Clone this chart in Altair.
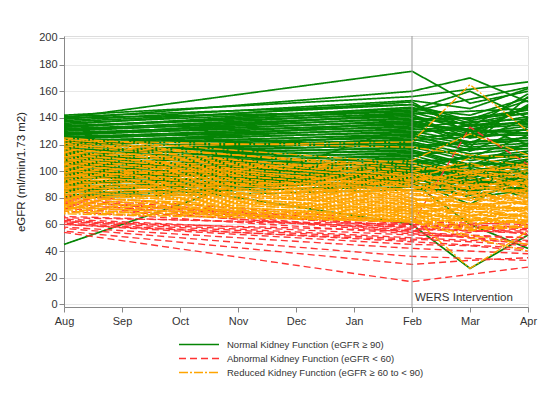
import altair as alt
import pandas as pd

months = ["Aug", "Sep", "Oct", "Nov", "Dec", "Jan", "Feb", "Mar", "Apr"]
measured = ["Aug", "Feb", "Mar", "Apr"]
groups = [
    "Normal Kidney Function (eGFR \u2265 90)",
    "Abnormal Kidney Function (eGFR < 60)",
    "Reduced Kidney Function (eGFR \u2265 60 to < 90)",
]
colors = ["#058505", "#ff3333", "#ffa500"]
dashes = [[1, 0], [7, 4], [9, 2, 2, 2]]
widths = [1.7, 1.35, 1.35]
y_ticks = [0, 20, 40, 60, 80, 100, 120, 140, 160, 180, 200]

# rows: (Aug, Feb, Mar, Apr)
normal_rows = [
    (141, 150, 138, 146), (140, 175, 151, 160), (139, 160, 170, 152), (142, 156, None, 167),
    (138, 153, 147, 162), (137, 150, 133, 158), (136, 147, 142, 155), (135, 152, 128, 149),
    (134, 145, 139, 153), (134, 143, None, 147), (133, 148, 136, 144), (132, 141, 125, 150),
    (131, 144, 134, 141), (131, 139, 140, 146), (130, 142, 131, 138), (129, 137, None, 143),
    (128, 140, 135, 136), (128, 135, 121, 140), (127, 138, 128, 134), (126, 133, 137, 139),
    (125, 136, 130, 131), (125, 131, None, 137), (124, 134, 125, 129), (123, 129, 132, 135),
    (122, 132, 127, 127), (121, 127, 115, 133), (121, 130, 122, 125), (120, 125, None, 131),
    (119, 128, 120, 123), (118, 123, 126, 129), (117, 126, 118, 121), (116, 121, 110, 127),
    (115, 124, 116, 119), (115, 119, None, 125), (114, 122, 113, 117), (113, 117, 122, 123),
    (112, 120, 110, 115), (111, 115, 104, 121), (110, 118, 108, 113), (109, 113, None, 119),
    (108, 116, 105, 111), (107, 111, 117, 117), (106, 114, 103, 109), (105, 109, 96, 115),
    (104, 112, 100, 107), (103, 107, None, 113), (102, 110, 98, 105), (101, 105, 110, 111),
    (100, 108, 95, 103), (99, 103, 91, 109), (98, 106, 93, 101), (97, 101, None, 107),
    (96, 104, 90, 99), (95, 99, 106, 105), (94, 102, 88, 97), (92, 97, 84, 94),
    (90, 100, 85, 92), (88, 95, None, 90), (85, 96, 80, 86), (82, 93, 96, 84),
    (45, 135, None, 128), (100, 60, 27, 52), (99, 92, 60, 42), (140, 145, None, 163),
    (133, 146, 160, 140), (127, 143, 118, 156), (119, 137, 130, 148), (111, 128, 135, 120),
    (108, 96, 101, 104), (104, 100, 112, 98), (101, 94, None, 100), (97, 98, 104, 93),
    (93, 91, 87, 96), (91, 94, 99, 88), (89, 90, None, 92), (86, 92, 95, 85),
    (84, 88, 82, 89), (81, 90, 92, 80), (112, 103, 97, 106), (106, 101, None, 95),
    (99, 96, 102, 90), (95, 93, 75, 99), (87, 97, 90, 83), (80, 86, None, 87),
]
abnormal_rows = [
    (82, 62, None, 60), (80, 60, 58, 57), (79, 58, None, 62), (78, 57, 55, 54),
    (77, 61, None, 58), (76, 55, 60, 52), (75, 59, None, 56), (74, 54, 52, 50),
    (72, 56, None, 55), (70, 53, 50, 48), (66, 58, None, 53), (64, 52, None, 50),
    (63, 50, 48, 47), (62, 55, None, 45), (62, 49, 47, 44), (61, 47, None, 42),
    (60, 45, 44, 40), (58, 42, None, 38), (57, 36, None, 33), (55, 30, 33, 35),
    (54, 17, None, 28), (65, 60, 133, 105), (60, 48, None, 60),
]
reduced_rows = [
    (125, 106, 100, 104), (123, 118, 112, 110), (122, 102, None, 100), (120, 104, 98, 106),
    (119, 98, 92, 97), (118, 122, 165, 130), (117, 96, 104, 102), (116, 100, 88, 94),
    (115, 94, None, 99), (114, 97, 90, 92), (113, 91, 100, 96), (112, 95, 87, 89),
    (111, 89, 80, 93), (110, 93, 99, 87), (109, 88, None, 91), (108, 91, 84, 85),
    (107, 86, 95, 89), (106, 90, 92, 83), (105, 84, 75, 87), (104, 88, 81, 82),
    (103, 83, None, 86), (102, 86, 78, 80), (101, 81, 88, 84), (100, 85, 83, 78),
    (99, 80, 71, 82), (98, 83, 75, 77), (97, 78, None, 81), (96, 82, 79, 75),
    (95, 77, 84, 79), (94, 80, 72, 73), (93, 75, 66, 78), (92, 79, 76, 72),
    (91, 74, None, 76), (90, 77, 69, 71), (89, 73, 80, 75), (88, 76, 73, 69),
    (87, 71, 62, 74), (86, 75, 67, 68), (85, 70, None, 72), (84, 73, 70, 66),
    (83, 69, 75, 71), (82, 72, 64, 65), (81, 68, 59, 69), (80, 71, 68, 63),
    (79, 66, None, 67), (78, 70, 61, 62), (77, 65, 70, 66), (76, 68, 65, 60),
    (75, 64, 55, 64), (74, 67, 58, 59), (73, 63, None, 63), (72, 66, 27, 55),
    (71, 62, 63, 61), (70, 64, 57, 58), (69, 62, 52, 45), (68, 62, 50, 40),
    (96, 108, 128, 112), (88, 92, 110, 104), (80, 86, 98, 95),
    (124, 100, 106, 96), (121, 96, 86, 92), (117, 93, 99, 90), (113, 88, None, 86),
    (109, 85, 90, 82), (105, 80, 73, 78), (101, 78, 83, 76), (97, 75, None, 72),
    (93, 72, 76, 70), (89, 70, 63, 67), (85, 68, 73, 65), (81, 65, None, 62),
    (77, 63, 66, 60), (73, 62, 56, 58),
]

records = []
for g, rows in zip(groups, [normal_rows, abnormal_rows, reduced_rows]):
    for i, row in enumerate(rows):
        for m, v in zip(measured, row):
            if v is not None:
                records.append({"group": g, "id": f"{g[:3]}{i}", "phase": i % 4,
                                "month": m, "mi": months.index(m), "egfr": v})
df = pd.DataFrame(records)

font = "Liberation Sans"

legend_kw = dict(title=None, orient="none", legendX=114, legendY=303,
                 symbolType="stroke", symbolSize=1600, symbolStrokeWidth=1.5,
                 clipHeight=11, rowPadding=3, labelFontSize=9.5, labelFont=font,
                 labelColor="#333", labelOffset=7, labelLimit=400)

x_enc = alt.X("month:O", sort=months,
              scale=alt.Scale(type="point", domain=months, padding=0),
              axis=alt.Axis(title=None, labelAngle=0, grid=False, domainColor="#888",
                            tickColor="#888", tickSize=5, labelFontSize=11,
                            labelColor="#333", labelFont=font, labelPadding=3))
y_enc = alt.Y("egfr:Q", scale=alt.Scale(domain=[-2, 201.5], nice=False, zero=False),
              axis=alt.Axis(title="eGFR (ml/min/1.73 m2)", values=y_ticks, grid=True,
                            gridColor="#e8e8e8", domainColor="#888", tickColor="#888",
                            tickSize=5, labelFontSize=11, labelColor="#333",
                            labelOverlap=False, labelFont=font, titleFont=font,
                            titleFontSize=11.5, titleFontWeight="normal",
                            titleColor="#222", titlePadding=12))

base = alt.Chart(df).encode(
    x=x_enc,
    y=y_enc,
    color=alt.Color("group:N", scale=alt.Scale(domain=groups, range=colors),
                    legend=alt.Legend(**legend_kw)),
    strokeDash=alt.StrokeDash("group:N", scale=alt.Scale(domain=groups, range=dashes),
                              legend=alt.Legend(**legend_kw)),
    detail="id:N",
    order="mi:Q",
)

line_layers = []
for g, dash, w in zip(groups, dashes, widths):
    period = sum(dash)
    for k in range(4):
        line_layers.append(
            base.mark_line(strokeWidth=w, strokeDashOffset=k * period / 4)
            .transform_filter((alt.datum.group == g) & (alt.datum.phase == k))
        )

marker = pd.DataFrame({"month": ["Feb"], "egfr": [4.5], "label": ["WERS Intervention"]})
rule = alt.Chart(marker).mark_rule(color="#999", strokeWidth=1).encode(x=x_enc)
text = alt.Chart(marker).mark_text(align="left", dx=3, fontSize=11.5, font=font,
                                   color="#333").encode(x=x_enc, y=y_enc, text="label:N")

chart = alt.layer(*line_layers, rule, text).properties(
    width=464, height=271,
    autosize=alt.AutoSizeParams(type="none"),
    padding={"left": 56, "top": 28, "right": 14, "bottom": 82},
).configure_view(stroke=None).configure(background="white")

chart.save("out.html", embed_options={"renderer": "svg", "actions": False})
